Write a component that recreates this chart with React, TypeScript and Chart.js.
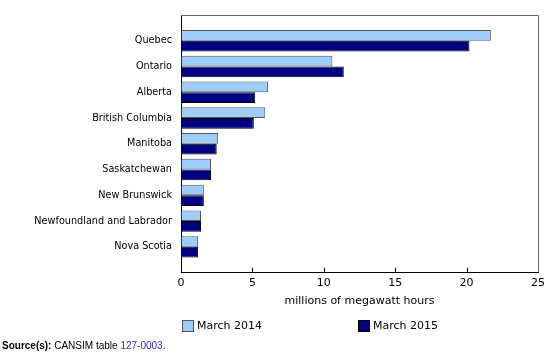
import React, { useEffect, useRef } from "react";
import { Chart, registerables } from "chart.js";

Chart.register(...registerables);

const categories = [
  "Quebec",
  "Ontario",
  "Alberta",
  "British Columbia",
  "Manitoba",
  "Saskatchewan",
  "New Brunswick",
  "Newfoundland and Labrador",
  "Nova Scotia",
];
const march2014 = [21.7, 10.6, 6.1, 5.9, 2.6, 2.1, 1.6, 1.4, 1.2];
const march2015 = [20.2, 11.4, 5.2, 5.1, 2.5, 2.1, 1.6, 1.4, 1.2];
const seriesLabels = ["March 2014", "March 2015"];
const xTicks = [0, 5, 10, 15, 20, 25];
const axisTitle = "millions of megawatt hours";

const LIGHT = "#9fcdfb";
const DARK = "#000080";
const FONT = "'DejaVu Sans', Verdana, sans-serif";

const framePlugin = {
  id: "frame",
  afterDraw(chart: any) {
    const { ctx, chartArea } = chart;
    const xs = chart.scales.x;
    ctx.save();
    ctx.strokeStyle = "#666";
    ctx.lineWidth = 1;
    ctx.beginPath();
    ctx.moveTo(chartArea.left, chartArea.top + 0.5);
    ctx.lineTo(chartArea.right + 0.5, chartArea.top + 0.5);
    ctx.lineTo(chartArea.right + 0.5, chartArea.bottom);
    ctx.stroke();
    ctx.strokeStyle = "#000";
    ctx.beginPath();
    xTicks.slice(1, -1).forEach((v) => {
      const px = Math.round(xs.getPixelForValue(v)) + 0.5;
      ctx.moveTo(px, chartArea.bottom);
      ctx.lineTo(px, chartArea.bottom - 5);
    });
    ctx.stroke();

    // legend
    const items = [
      { x: 182, color: LIGHT, border: "#555" },
      { x: 358, color: DARK, border: "#000" },
    ];
    const y = 320;
    ctx.font = `11px ${FONT}`;
    ctx.textBaseline = "middle";
    ctx.textAlign = "left";
    items.forEach((it, i) => {
      ctx.fillStyle = it.color;
      ctx.fillRect(it.x, y, 12, 12);
      ctx.strokeStyle = it.border;
      ctx.strokeRect(it.x + 0.5, y + 0.5, 11, 11);
      ctx.fillStyle = "#000";
      ctx.fillText(chart.data.datasets[i].label, it.x + 15, y + 6.5);
    });
    ctx.restore();
  },
};

export default function App() {
  const ref = useRef<HTMLCanvasElement>(null);
  useEffect(() => {
    if (!ref.current) return;
    const chart = new Chart(ref.current, {
      type: "bar",
      data: {
        datasets: [
          {
            label: seriesLabels[0],
            data: march2014.map((v, i) => ({ x: v, y: i })),
            backgroundColor: LIGHT,
            borderColor: "#555",
            borderWidth: 1,
            categoryPercentage: 0.83,
            barPercentage: 1,
          },
          {
            label: seriesLabels[1],
            data: march2015.map((v, i) => ({ x: v, y: i })),
            backgroundColor: DARK,
            borderColor: "#000",
            borderWidth: 1,
            categoryPercentage: 0.83,
            barPercentage: 1,
          },
        ] as any,
      },
      options: {
        indexAxis: "y",
        animation: false,
        responsive: false,
        layout: { padding: { top: 15, right: 15, left: 0, bottom: 47 } },
        plugins: { legend: { display: false }, tooltip: { enabled: false } },
        scales: {
          y: {
            type: "linear",
            min: -1,
            max: 9,
            reverse: true,
            offset: false,
            afterFit: (s: any) => {
              s.width = 181;
            },
            afterBuildTicks: (s: any) => {
              s.ticks = categories.map((_, i) => ({ value: i }));
            },
            ticks: {
              callback: (v: any) => categories[v] ?? "",
              autoSkip: false,
              padding: 9,
              color: "#000",
              font: { family: FONT, size: 9.7 },
            },
            grid: { display: false, drawTicks: false },
            border: { display: true, color: "#000", width: 1 },
          },
          x: {
            type: "linear",
            min: 0,
            max: 25,
            afterBuildTicks: (s: any) => {
              s.ticks = xTicks.map((v) => ({ value: v }));
            },
            ticks: {
              padding: 4,
              color: "#000",
              font: { family: FONT, size: 11 },
            },
            grid: { drawOnChartArea: false, drawTicks: false },
            border: { display: true, color: "#000", width: 1 },
            title: {
              display: true,
              text: axisTitle,
              color: "#000",
              font: { family: FONT, size: 11 },
              padding: { top: 1, bottom: 0 },
            },
          },
        },
      } as any,
      plugins: [framePlugin],
    });
    return () => chart.destroy();
  }, []);

  return (
    <div style={{ position: "absolute", left: 0, top: 0, width: 553, height: 355, background: "#fff" }}>
      <canvas ref={ref} width={553} height={355} style={{ display: "block" }} />
      <div
        style={{
          position: "absolute",
          left: 2,
          top: 340,
          fontFamily: "'Liberation Sans', Arial, sans-serif",
          fontSize: 10,
          color: "#000",
          whiteSpace: "nowrap",
        }}
      >
        <b>Source(s):</b> CANSIM table <span style={{ color: "#2b2bc8" }}>127-0003</span>.
      </div>
    </div>
  );
}
